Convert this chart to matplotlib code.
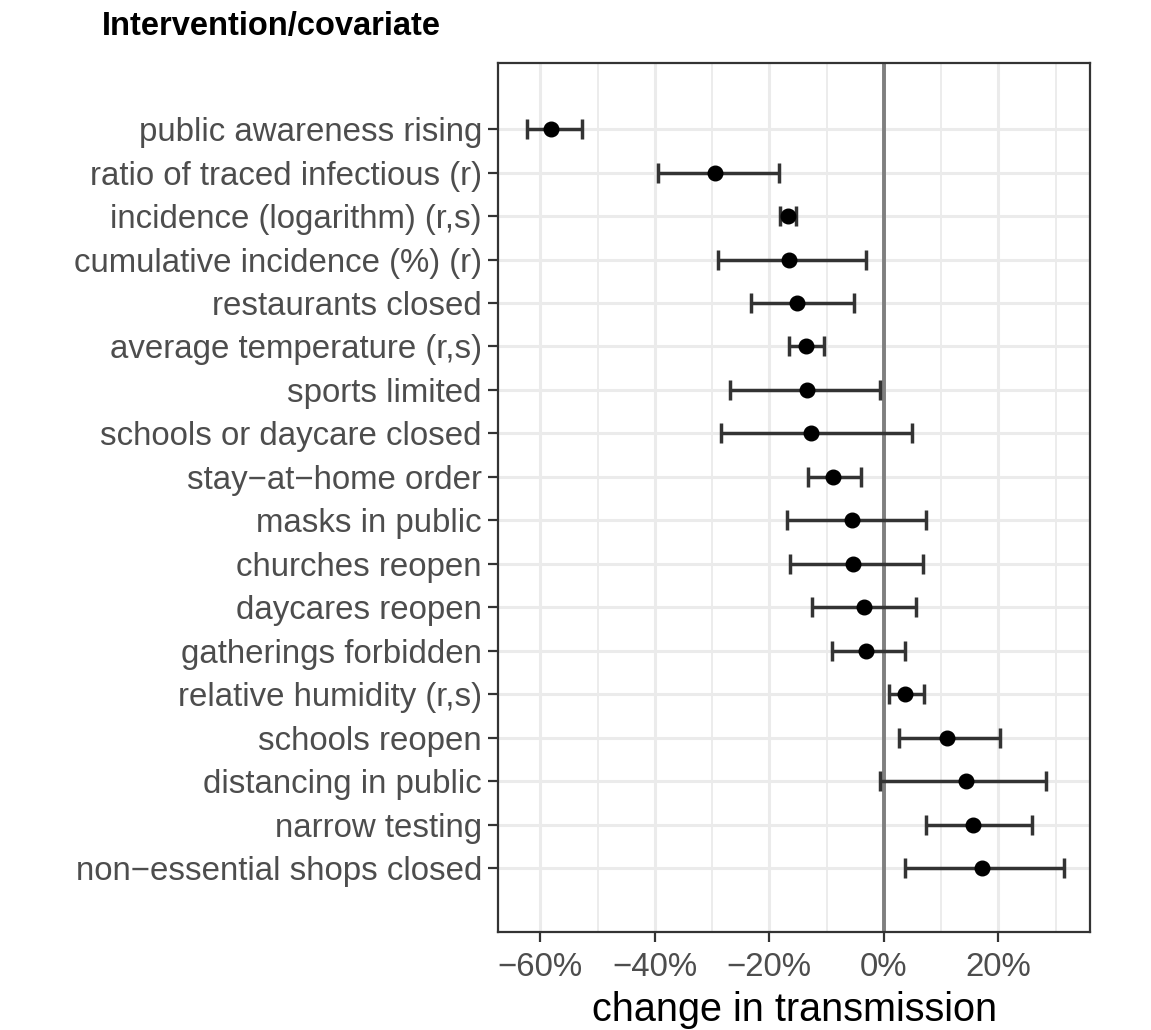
import numpy as np
import matplotlib
matplotlib.use("Agg")
import matplotlib.pyplot as plt
from matplotlib.ticker import MultipleLocator, FuncFormatter

plt.rcParams['font.family'] = ['Liberation Sans', 'DejaVu Sans']

# estimates (percent change in transmission)
labels = [
    "public awareness rising",
    "ratio of traced infectious (r)",
    "incidence (logarithm) (r,s)",
    "cumulative incidence (%) (r)",
    "restaurants closed",
    "average temperature (r,s)",
    "sports limited",
    "schools or daycare closed",
    "stay\u2212at\u2212home order",
    "masks in public",
    "churches reopen",
    "daycares reopen",
    "gatherings forbidden",
    "relative humidity (r,s)",
    "schools reopen",
    "distancing in public",
    "narrow testing",
    "non\u2212essential shops closed",
]
est = [-58.2, -29.5, -16.8, -16.6, -15.2, -13.6, -13.4, -12.7, -8.8,
       -5.6, -5.4, -3.5, -3.1, 3.7, 11.0, 14.4, 15.6, 17.1]
lower = [-62.4, -39.5, -18.2, -29.0, -23.2, -16.5, -26.8, -28.4, -13.2,
         -16.9, -16.4, -12.5, -9.1, 0.9, 2.7, -0.7, 7.4, 3.7]
upper = [-52.8, -18.3, -15.4, -3.1, -5.2, -10.5, -0.7, 4.9, -4.0,
         7.4, 6.9, 5.7, 3.7, 7.0, 20.3, 28.4, 25.9, 31.4]

est = np.array(est)
lower = np.array(lower)
upper = np.array(upper)
ypos = np.arange(1, len(labels) + 1)

fig = plt.figure(figsize=(11.51, 10.30), dpi=100)
ax = fig.add_axes([0.4331, 0.0951, 0.9470 - 0.4331, 0.9388 - 0.0951])

ax.set_xlim(-67.3, 36.0)
ax.set_ylim(19.47, -0.52)

# grid like theme_bw
ax.xaxis.set_major_locator(MultipleLocator(20))
ax.xaxis.set_minor_locator(MultipleLocator(10))
ax.grid(True, which='major', color='#EBEBEB', linewidth=2.2, zorder=0)
ax.grid(True, which='minor', axis='x', color='#EBEBEB', linewidth=1.3, zorder=0)
ax.set_axisbelow(True)

ax.axvline(0, color='#7F7F7F', linewidth=2.8, zorder=1)

ax.errorbar(est, ypos, xerr=[est - lower, upper - est], fmt='none',
            ecolor='#333333', elinewidth=2.5, capsize=7.5, capthick=2.5, zorder=2)
ax.plot(est, ypos, 'o', color='black', markersize=10.5, zorder=3)

ax.set_yticks(ypos)
ax.set_yticklabels(labels)
ax.xaxis.set_major_formatter(FuncFormatter(lambda v, p: f"{v:.0f}%".replace('-', '\u2212')))

ax.tick_params(axis='both', which='major', length=7.4, width=1.6, color='#333333',
               labelcolor='#4D4D4D', labelsize=23.8, pad=4.5)
ax.tick_params(axis='x', which='major', pad=7)
ax.tick_params(axis='x', which='minor', length=0)

for s in ax.spines.values():
    s.set_color('#333333')
    s.set_linewidth(1.6)

ax.set_xlabel("change in transmission", fontsize=28.5, color='black', labelpad=6)
fig.text(102 / 1151, 1 - 27 / 1030, "Intervention/covariate", fontsize=23.5,
         fontweight='bold', ha='left', va='center', color='black')

fig.savefig("out.png", dpi=100)
